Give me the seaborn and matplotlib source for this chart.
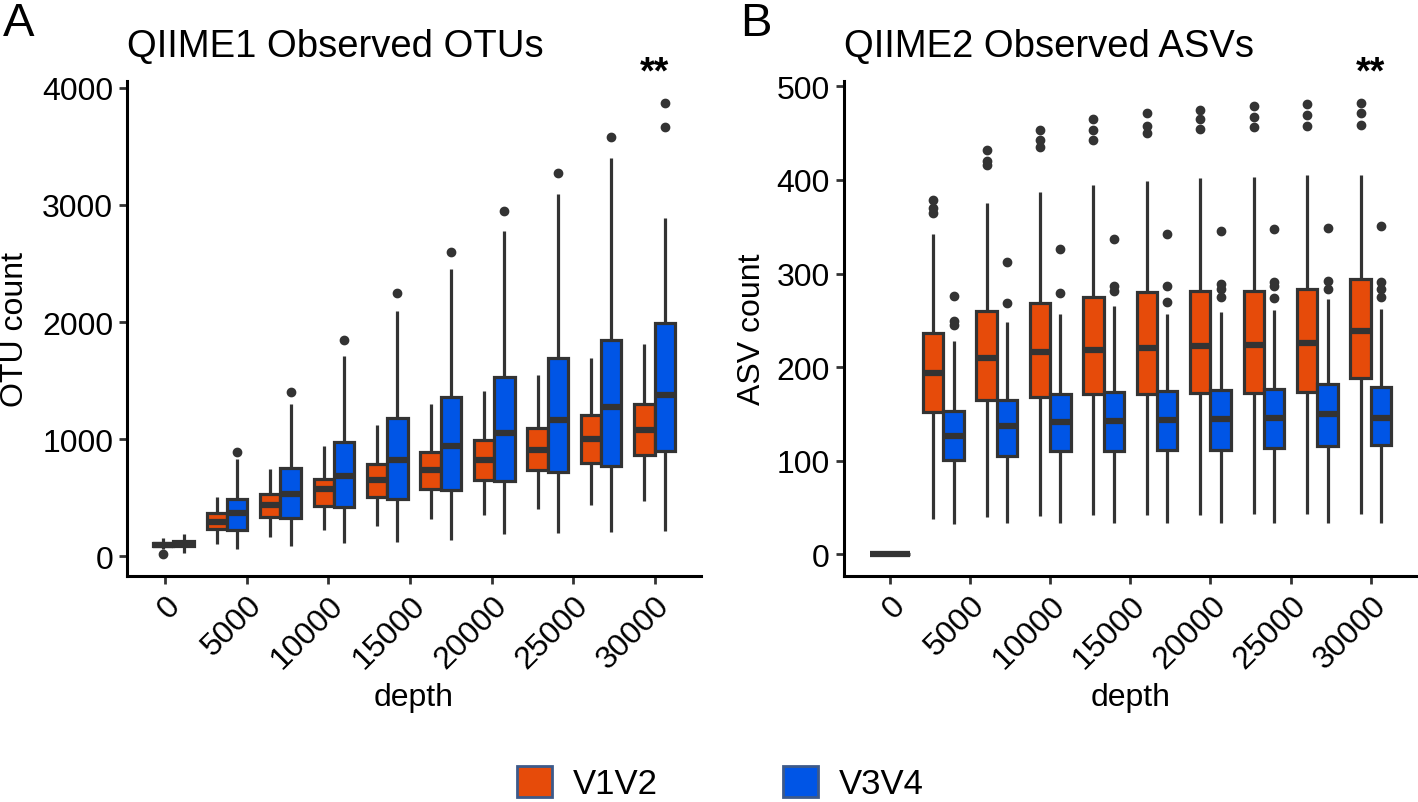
import pandas as pd
import matplotlib
matplotlib.use('Agg')
import matplotlib.pyplot as plt
from matplotlib.patches import Patch
import seaborn as sns

sns.set_theme(style='ticks')
plt.rcParams['font.family'] = ['Liberation Sans', 'DejaVu Sans']
plt.rcParams['text.color'] = 'black'
plt.rcParams['axes.labelcolor'] = 'black'

regions = ['V1V2', 'V3V4']
colors = {'V1V2': '#E64B0A', 'V3V4': '#0055E6'}

# A: QIIME1 observed OTUs
a_depths = [500, 3778, 7056, 10333, 13611, 16889, 20167, 23444, 26722, 30000]
a_v1v2_lo = [65, 102, 168, 222, 264, 321, 352, 401, 435, 475]
a_v1v2_q1 = [85, 236, 338, 429, 506, 577, 656, 736, 799, 864]
a_v1v2_med = [100, 298, 435, 577, 650, 736, 827, 905, 1000, 1080]
a_v1v2_q3 = [115, 367, 531, 665, 790, 895, 997, 1100, 1211, 1299]
a_v1v2_hi = [155, 509, 750, 940, 1125, 1302, 1409, 1549, 1694, 1810]
a_v1v2_out = [[25], [], [], [], [], [], [], [], [], []]
a_v3v4_lo = [30, 66, 88, 111, 125, 139, 188, 196, 210, 220]
a_v3v4_q1 = [85, 224, 330, 418, 494, 565, 642, 719, 768, 904]
a_v3v4_med = [105, 372, 537, 690, 821, 940, 1054, 1168, 1273, 1380]
a_v3v4_q3 = [130, 490, 756, 980, 1179, 1358, 1535, 1694, 1848, 1992]
a_v3v4_hi = [190, 833, 1302, 1714, 2091, 2453, 2773, 3092, 3397, 2886]
a_v3v4_out = [[], [895], [1407], [1850], [2248], [2596], [2950], [3268], [3578], [3665, 3868]]

# B: QIIME2 observed ASVs
b_depths = [1, 3334, 6667, 10000, 13334, 16667, 20000, 23334, 26667, 30000]
b_v1v2_lo = [1, 38, 40, 41, 42, 42, 42, 43, 43, 43]
b_v1v2_q1 = [1, 152, 165, 168, 171, 171, 172, 172, 174, 189]
b_v1v2_med = [1, 194, 210, 216, 218, 220, 223, 224, 226, 239]
b_v1v2_q3 = [1, 236, 260, 269, 275, 280, 281, 281, 284, 294]
b_v1v2_hi = [1, 342, 375, 387, 395, 399, 402, 403, 405, 405]
b_v1v2_out = [[], [365, 370, 379], [416, 420, 432], [435, 443, 453], [443, 453, 465],
              [450, 458, 472], [454, 465, 475], [457, 467, 479], [458, 469, 481], [459, 472, 482]]
b_v3v4_lo = [1, 32, 34, 34, 34, 34, 34, 34, 34, 34]
b_v3v4_q1 = [1, 101, 105, 110, 110, 112, 112, 114, 116, 117]
b_v3v4_med = [1, 126, 137, 141, 143, 144, 145, 146, 150, 146]
b_v3v4_q3 = [1, 153, 165, 171, 174, 175, 176, 177, 182, 179]
b_v3v4_hi = [1, 228, 248, 257, 265, 257, 259, 261, 273, 262]
b_v3v4_out = [[], [245, 249, 276], [269, 312], [279, 326], [281, 287, 337], [270, 287, 342],
              [275, 284, 289, 345], [274, 287, 291, 348], [283, 292, 349], [275, 284, 291, 351]]

x_ticks = [0, 5000, 10000, 15000, 20000, 25000, 30000]
x_ticklabels = ['0', '5000', '10000', '15000', '20000', '25000', '30000']
a_y_ticks = [0, 1000, 2000, 3000, 4000]
b_y_ticks = [0, 100, 200, 300, 400, 500]


def sample(lo, q1, med, q3, hi, out):
    # repeated values so that the quartiles land exactly on q1 / med / q3
    low = sorted(v for v in out if v < q1)
    high = sorted(v for v in out if v > q3)
    k = max(len(low), len(high)) + 2
    vals = low + [lo] * (k - len(low))
    vals += [q1] * k + [med] * k
    vals += [q3] * (k - len(high)) + [hi] + high
    return vals


def build(depths, stats):
    rows = []
    for region, (lo, q1, med, q3, hi, out) in stats.items():
        for i, d in enumerate(depths):
            for v in sample(lo[i], q1[i], med[i], q3[i], hi[i], out[i]):
                rows.append({'depth': d, 'count': v, 'region': region})
    return pd.DataFrame(rows)


df_a = build(a_depths, {
    'V1V2': (a_v1v2_lo, a_v1v2_q1, a_v1v2_med, a_v1v2_q3, a_v1v2_hi, a_v1v2_out),
    'V3V4': (a_v3v4_lo, a_v3v4_q1, a_v3v4_med, a_v3v4_q3, a_v3v4_hi, a_v3v4_out),
})
df_b = build(b_depths, {
    'V1V2': (b_v1v2_lo, b_v1v2_q1, b_v1v2_med, b_v1v2_q3, b_v1v2_hi, b_v1v2_out),
    'V3V4': (b_v3v4_lo, b_v3v4_q1, b_v3v4_med, b_v3v4_q3, b_v3v4_hi, b_v3v4_out),
})

fig = plt.figure(figsize=(14.18, 8.03), dpi=100)
ax_a = fig.add_axes([0.0896, 0.2814, 0.4048, 0.6169])
ax_b = fig.add_axes([0.5949, 0.2814, 0.4045, 0.6169])

panels = [
    (ax_a, df_a, 'QIIME1 Observed OTUs', 'OTU count', a_y_ticks, -0.169),
    (ax_b, df_b, 'QIIME2 Observed ASVs', 'ASV count', b_y_ticks, -0.133),
]

for ax, df, title, ylabel, yticks, ylab_x in panels:
    sns.boxplot(data=df, x='depth', y='count', hue='region', hue_order=regions,
                native_scale=True, width=0.76, gap=0, palette=colors, saturation=1,
                linecolor='#333333', linewidth=2.3, fliersize=6, showcaps=False,
                flierprops=dict(marker='o', markerfacecolor='#333333',
                                markeredgecolor='#333333'),
                medianprops=dict(linewidth=4.5, color='#333333'),
                legend=False, ax=ax)
    ax.margins(x=0.05, y=0.05)
    ax.set_xticks(x_ticks)
    ax.set_xticklabels(x_ticklabels, rotation=45, ha='right', rotation_mode='anchor')
    ax.set_yticks(yticks)
    ax.tick_params(axis='both', labelsize=23, length=6, width=2, color='#333333',
                   labelcolor='black', pad=4)
    for side in ['top', 'right']:
        ax.spines[side].set_visible(False)
    for side in ['left', 'bottom']:
        ax.spines[side].set_color('black')
        ax.spines[side].set_linewidth(2.2)
    ax.set_xlabel('depth', fontsize=23)
    ax.set_ylabel(ylabel, fontsize=23)
    ax.xaxis.set_label_coords(0.5, -0.214)
    ax.yaxis.set_label_coords(ylab_x, 0.5)
    ax.text(0.0, 1.05, title, transform=ax.transAxes, fontsize=27.5,
            ha='left', va='baseline')
    ax.annotate('**', xy=(30000, 1.0), xycoords=('data', 'axes fraction'),
                xytext=(0, -7), textcoords='offset points', ha='center', va='bottom',
                fontsize=27, fontweight='bold', annotation_clip=False)

fig.text(0.002, 0.998, 'A', fontsize=34, ha='left', va='top')
fig.text(0.522, 0.998, 'B', fontsize=34, ha='left', va='top')

handles = [Patch(facecolor=colors[r], edgecolor='#3d5a8a', linewidth=2) for r in regions]
fig.legend(handles, regions, loc='center', bbox_to_anchor=(0.508, 0.024), ncol=2,
           frameon=False, fontsize=25, handlelength=1.0, handleheight=1.0,
           handletextpad=0.6, columnspacing=3.6)

fig.savefig('out.png', dpi=100)
